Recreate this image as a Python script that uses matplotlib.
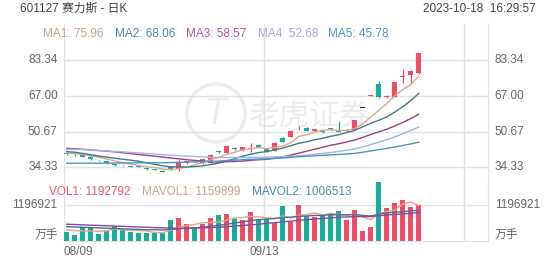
import numpy as np
import matplotlib
matplotlib.use("Agg")
import matplotlib.pyplot as plt
from matplotlib.patches import Circle

plt.rcParams['font.family'] = ['Liberation Sans', 'Noto Sans CJK SC', 'DejaVu Sans']

# daily candles 2023-08-09 .. 2023-10-18 (45 trading days)
opens = [40.5, 40.0, 40.4, 38.9, 37.6, 37.1, 35.5, 35.3, 34.7, 34.7,
         34.0, 33.2, 32.8, 34.3, 33.4, 36.2, 37.3, 36.2, 36.4, 41.5,
         41.0, 43.3, 42.2, 42.9, 44.6, 43.0, 41.9, 47.6, 48.3, 52.1,
         52.5, 50.9, 50.6, 51.9, 50.7, 50.8, 51.4, 61.3, 66.9, 72.4,
         66.4, 66.6, 75.5, 76.5, 77.3]
closes = [40.4, 39.8, 39.2, 38.0, 37.5, 36.2, 35.4, 35.2, 34.6, 34.6,
          33.4, 33.1, 32.2, 33.4, 36.4, 37.1, 37.2, 38.0, 40.1, 41.4,
          44.1, 42.5, 43.5, 43.1, 43.7, 41.4, 45.6, 46.0, 51.0, 52.3,
          51.1, 51.7, 50.5, 51.8, 50.6, 51.3, 55.9, 61.3, 67.0, 66.3,
          66.6, 73.4, 75.9, 78.3, 86.4]
highs = [40.7, 40.2, 40.6, 39.1, 37.9, 37.3, 35.8, 35.6, 35.0, 34.9,
         34.2, 33.4, 32.9, 34.5, 37.5, 37.4, 37.8, 38.3, 40.4, 42.0,
         44.5, 43.7, 43.8, 45.4, 44.9, 43.3, 46.0, 48.0, 51.3, 53.0,
         52.9, 52.0, 51.0, 52.4, 55.7, 51.6, 56.1, 61.3, 67.4, 73.6,
         67.3, 73.4, 79.1, 78.6, 86.4]
lows = [40.1, 39.6, 39.0, 37.9, 37.2, 36.0, 35.0, 34.9, 34.3, 34.3,
        33.3, 32.9, 32.0, 33.2, 32.6, 35.9, 36.8, 36.0, 36.2, 40.9,
        40.8, 42.3, 42.0, 41.3, 43.5, 41.1, 41.7, 45.8, 48.1, 51.5,
        50.9, 50.6, 50.0, 51.3, 50.3, 50.5, 51.2, 61.3, 66.8, 66.0,
        66.0, 66.4, 72.7, 72.4, 77.0]
volumes = [290000, 200000, 470000, 420000, 230000, 330000, 490000, 360000, 300000, 250000,
           250000, 250000, 290000, 690000, 760000, 550000, 420000, 560000, 740000, 850000,
           870000, 710000, 690000, 940000, 720000, 720000, 580000, 1150000, 630000, 1180000,
           830000, 800000, 830000, 910000, 1000000, 680000, 1030000, 340000, 450000, 1940000,
           1090000, 1230000, 1330000, 1120000, 1192792]

ma1 = [40.9, 40.6, 40.2, 39.6, 39.0, 38.1, 37.3, 36.5, 35.8, 35.2, 34.6, 34.2, 33.6, 33.3, 33.7,
       34.4, 35.5, 36.4, 37.8, 38.8, 40.2, 41.2, 42.3, 42.9, 43.4, 42.8, 43.5, 44.0, 45.5, 48.5,
       49.2, 50.4, 51.3, 51.5, 51.1, 51.2, 52.0, 54.2, 57.2, 60.3, 63.4, 66.9, 69.8, 72.1, 75.96]
ma2 = [41.5, 41.2, 40.7, 40.1, 39.5, 39.0, 38.5, 38.0, 37.6, 37.1, 36.4, 35.7, 35.0, 34.6, 34.5,
       34.5, 34.7, 35.0, 35.6, 36.2, 37.3, 38.2, 39.4, 40.3, 41.1, 41.5, 42.3, 43.1, 44.2, 45.3,
       46.0, 46.9, 47.6, 48.5, 49.2, 50.2, 51.2, 52.8, 54.4, 55.8, 57.3, 59.5, 62.0, 64.7, 68.06]
ma3 = [43.0, 42.8, 42.6, 42.3, 42.0, 41.7, 41.4, 41.0, 40.6, 40.2, 39.8, 39.4, 39.0, 38.6, 38.2,
       37.8, 37.5, 37.2, 36.9, 36.7, 36.9, 37.0, 37.2, 37.5, 37.8, 38.0, 38.5, 39.1, 39.9, 40.8,
       41.7, 42.6, 43.5, 44.4, 45.1, 45.9, 46.8, 48.0, 49.3, 50.5, 51.7, 53.2, 54.8, 56.6, 58.57]
ma4 = [42.6, 42.5, 42.4, 42.2, 42.0, 41.8, 41.6, 41.4, 41.1, 40.9, 40.6, 40.4, 40.1, 39.9, 39.7,
       39.5, 39.3, 39.1, 39.0, 38.9, 38.8, 38.8, 38.8, 38.9, 38.9, 39.0, 39.1, 39.2, 39.4, 39.55,
       39.9, 40.3, 40.7, 41.1, 41.6, 42.1, 42.8, 43.6, 44.7, 45.8, 46.9, 48.2, 49.7, 51.2, 52.68]
ma5 = [36.2, 36.2, 36.2, 36.2, 36.2, 36.3, 36.3, 36.3, 36.3, 36.4, 36.4, 36.4, 36.4, 36.5, 36.6,
       36.7, 36.8, 36.9, 37.0, 37.2, 37.4, 37.6, 37.8, 38.0, 38.1, 38.2, 38.4, 38.6, 38.9, 39.2,
       39.4, 39.6, 39.8, 40.0, 40.2, 40.4, 40.7, 41.2, 41.8, 42.4, 43.0, 43.6, 44.3, 45.0, 45.78]

mavol1 = [360000, 340000, 330000, 330000, 320000, 330000, 390000, 370000, 340000, 350000,
          330000, 280000, 270000, 350000, 450000, 510000, 540000, 600000, 610000, 620000,
          690000, 750000, 770000, 810000, 790000, 760000, 730000, 820000, 760000, 850000,
          870000, 920000, 850000, 910000, 870000, 840000, 890000, 790000, 700000, 890000,
          970000, 1010000, 1210000, 1280000, 1159899]
mavol2 = [470000, 460000, 450000, 440000, 430000, 420000, 410000, 400000, 390000, 380000,
          370000, 370000, 360000, 380000, 400000, 420000, 430000, 460000, 480000, 510000,
          550000, 590000, 630000, 670000, 700000, 720000, 740000, 770000, 780000, 810000,
          820000, 840000, 840000, 860000, 860000, 860000, 870000, 840000, 820000, 880000,
          920000, 940000, 960000, 990000, 1006513]
mavol3 = [550000, 540000, 530000, 520000, 510000, 500000, 490000, 480000, 470000, 460000,
          450000, 440000, 430000, 420000, 420000, 420000, 420000, 430000, 440000, 450000,
          470000, 490000, 510000, 530000, 550000, 580000, 600000, 630000, 650000, 680000,
          700000, 720000, 740000, 760000, 780000, 790000, 800000, 800000, 800000, 830000,
          850000, 870000, 890000, 910000, 930000]

price_ticks = [34.33, 50.67, 67.00, 83.34]
vol_tick = 1196921
date_labels = ['08/09', '09/13']
date_pos = [0, 25]

RED = '#ef4d67'
GREEN = '#17ad99'
GRID = '#e3e3e3'
TXT = '#666666'

W, H = 552, 265
fig = plt.figure(figsize=(W / 100, H / 100), dpi=100)

def box(x0, y0, x1, y1):
    return [x0 / W, 1 - y1 / H, (x1 - x0) / W, (y1 - y0) / H]

x = np.arange(len(closes))
xlim = (-0.33, 52.66)

# faint watermark logo, behind everything
wm = fig.add_axes(box(0, 0, W, H))
wm.set_xlim(0, W)
wm.set_ylim(H, 0)
wm.axis('off')
wm.add_patch(Circle((216, 113), 29, fill=False, ec='#000000', lw=2.5, alpha=0.07))
wm.text(216, 115, 'T', fontsize=26, ha='center', va='center', color='#000000', alpha=0.07,
        style='italic')
wm.text(310, 117, '老虎证券', fontsize=22, ha='center', va='center', color='#000000',
        alpha=0.07)

# price panel
ax = fig.add_axes(box(64, 24.2, 488, 203.1))
ax.patch.set_alpha(0)
ax.set_xlim(*xlim)
ax.set_ylim(18.0, 99.67)
for yv in price_ticks:
    ax.axhline(yv, color=GRID, lw=1, zorder=0)
for xv in [-0.33, 24.67, 49.67]:
    ax.axvline(xv, color=GRID, lw=1, zorder=0)
for s in ['top', 'bottom', 'left']:
    ax.spines[s].set_visible(False)
ax.spines['right'].set_color(GRID)
ax.set_xticks([])
ax.set_yticks([])

o = np.array(opens); c = np.array(closes)
up = c >= o
cols = np.where(up, RED, GREEN)
# one-price limit-up days are drawn dark in the source
flat = np.array(highs) == np.array(lows)
ccols = np.where(flat, '#222222', cols)
bottom = np.minimum(o, c)
height = np.maximum(np.abs(c - o), 0.35)
ax.vlines(x, lows, highs, colors=ccols, lw=0.9, zorder=2)
ax.bar(x, height, bottom=bottom, width=0.66, color=ccols, zorder=3)

ma_cols = ['#e0a68a', '#3d7c8e', '#9c3f86', '#a6b4e6', '#4b93c6']
for ma, col in zip([ma1, ma2, ma3, ma4, ma5], ma_cols):
    ax.plot(x, ma, color=col, lw=1.0, zorder=4)

for yv in price_ticks:
    ax.text(-0.015, yv, '%.2f' % yv, transform=ax.get_yaxis_transform(), ha='right',
            va='center', fontsize=8.5, color=TXT)
    ax.text(1.016, yv, '%.2f' % yv, transform=ax.get_yaxis_transform(), ha='left',
            va='center', fontsize=8.5, color=TXT)

# volume panel
axv = fig.add_axes(box(64, 180, 488, 241))
axv.patch.set_alpha(0)
axv.set_xlim(*xlim)
axv.set_ylim(0, vol_tick * 61 / 36.5)
axv.axhline(vol_tick, color=GRID, lw=1, zorder=0)
for xv in [-0.33, 24.67, 49.67]:
    axv.axvline(xv, color=GRID, lw=1, zorder=0)
for s in ['top', 'left']:
    axv.spines[s].set_visible(False)
axv.spines['right'].set_color(GRID)
axv.spines['bottom'].set_color(GRID)
axv.set_xticks([])
axv.set_yticks([])
axv.bar(x, volumes, width=0.66, color=cols, zorder=2)
axv.plot(x, mavol1, color='#e0a68a', lw=1.0, zorder=3)
axv.plot(x, mavol2, color='#4c6e98', lw=1.0, zorder=3)
axv.plot(x, mavol3, color='#8c4a9c', lw=1.0, zorder=3)

for side, ha in [(-0.015, 'right'), (1.016, 'left')]:
    axv.text(side, vol_tick, str(vol_tick), transform=axv.get_yaxis_transform(), ha=ha,
             va='center', fontsize=8.5, color=TXT)
    axv.text(side, 0.08, '万手', transform=axv.transAxes, ha=ha, va='center',
             fontsize=8.5, color=TXT)

# date labels
axv.text(date_pos[0] - 0.33, -0.18, date_labels[0], transform=axv.get_xaxis_transform(),
         ha='left', va='center', fontsize=8.5, color=TXT)
axv.text(date_pos[1] - 0.33, -0.18, date_labels[1], transform=axv.get_xaxis_transform(),
         ha='center', va='center', fontsize=8.5, color=TXT)

# header texts
fig.text(20 / W, 1 - 9 / H, '601127 赛力斯 - 日K', fontsize=8.5, color='#444444', va='center')
fig.text(536 / W, 1 - 9 / H, '2023-10-18  16:29:57', fontsize=8.5, color='#444444',
         va='center', ha='right')

ma_labels = [('MA1: 75.96', '#c9a28c', 43), ('MA2: 68.06', '#4f8aa6', 115),
             ('MA3: 58.57', '#b3579a', 186), ('MA4: 52.68', '#a9a9df', 258),
             ('MA5: 45.78', '#4a9acb', 328)]
for t, col, px in ma_labels:
    fig.text(px / W, 1 - 34 / H, t, fontsize=8.5, color=col, va='center')

vol_labels = [('VOL1: 1192792', '#e8566a', 49), ('MAVOL1: 1159899', '#c9a28c', 142),
              ('MAVOL2: 1006513', '#4f8aa6', 252)]
for t, col, px in vol_labels:
    fig.text(px / W, 1 - 192 / H, t, fontsize=8.5, color=col, va='center')

fig.savefig('out.png', dpi=100)
